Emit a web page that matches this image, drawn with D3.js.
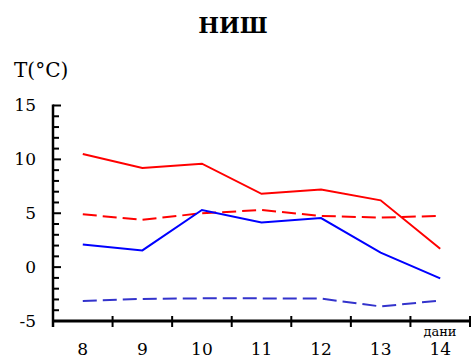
<!DOCTYPE html>
<html><head><meta charset="utf-8">
<script src="https://cdn.jsdelivr.net/npm/d3@7"></script>
<style>body{margin:0;background:#fff}svg{display:block}svg text{font-family:'DejaVu Serif',serif !important}</style>
</head><body>
<svg id="c" width="471" height="358"></svg>
<script>
const days = [8, 9, 10, 11, 12, 13, 14];
const maxTemp = [10.5, 9.2, 9.6, 6.8, 7.2, 6.2, 1.7];
const maxTempAvg = [4.9, 4.4, 5.0, 5.3, 4.75, 4.6, 4.75];
const minTemp = [2.1, 1.55, 5.3, 4.15, 4.55, 1.35, -1.05];
const minTempAvg = [-3.15, -2.95, -2.9, -2.9, -2.92, -3.65, -3.1];
const yTicks = [-5, 0, 5, 10, 15];

(function () {
const svg = d3.select("#c");
const mLeft = 53, mRight = 470, mTop = 105.5, mBottom = 321;
const x = d3.scaleBand().domain(days).range([mLeft, mRight]);
const y = d3.scaleLinear().domain([-5, 15]).range([mBottom, mTop]);

svg.append("text").attr("x", 233).attr("y", 33).attr("text-anchor", "middle")
  .attr("font-size", 22).attr("font-weight", "bold").text("НИШ");
svg.append("text").attr("x", 14).attr("y", 77).attr("font-size", 20).text("T(°C)");

const yAxis = svg.append("g");
d3.range(-5, 16, 1).forEach(v => {
  yAxis.append("line").attr("x1", mLeft).attr("x2", mLeft + (v % 5 === 0 ? 8 : 6))
    .attr("y1", y(v)).attr("y2", y(v)).attr("stroke", "#000").attr("stroke-width", 2);
});
yTicks.forEach(v => {
  yAxis.append("text").attr("x", 36).attr("y", y(v)).attr("dy", "0.35em")
    .attr("text-anchor", "end").attr("font-size", 17).text(v);
});
yAxis.append("line").attr("x1", mLeft).attr("x2", mLeft).attr("y1", mTop - 1).attr("y2", mBottom + 6)
  .attr("stroke", "#000").attr("stroke-width", 2.5);

const xAxis = svg.append("g");
const bounds = days.map(d => x(d)).concat([x(days[days.length - 1]) + x.bandwidth()]);
bounds.forEach(b => {
  xAxis.append("line").attr("x1", b).attr("x2", b).attr("y1", mBottom - 5).attr("y2", mBottom + 6)
    .attr("stroke", "#000").attr("stroke-width", 2);
});
xAxis.append("line").attr("x1", mLeft).attr("x2", mRight).attr("y1", mBottom).attr("y2", mBottom)
  .attr("stroke", "#000").attr("stroke-width", 3);
days.forEach(d => {
  xAxis.append("text").attr("x", x(d) + x.bandwidth() / 2).attr("y", 355)
    .attr("text-anchor", "middle").attr("font-size", 17).text(d);
});
svg.append("text").attr("x", 440).attr("y", 336).attr("text-anchor", "middle")
  .attr("font-size", 13).text("дани");

const line = d3.line().x((v, i) => x(days[i]) + x.bandwidth() / 2).y(v => y(v));
const series = [
  {v: maxTemp, c: "#ff0000", dash: null},
  {v: maxTempAvg, c: "#ff0000", dash: "14,6"},
  {v: minTemp, c: "#0000ff", dash: null},
  {v: minTempAvg, c: "#3333cc", dash: "14,6"}
];
series.forEach(s => {
  svg.append("path").attr("d", line(s.v)).attr("fill", "none").attr("stroke", s.c)
    .attr("stroke-width", 2).attr("stroke-dasharray", s.dash);
});
})();
</script>
</body></html>
